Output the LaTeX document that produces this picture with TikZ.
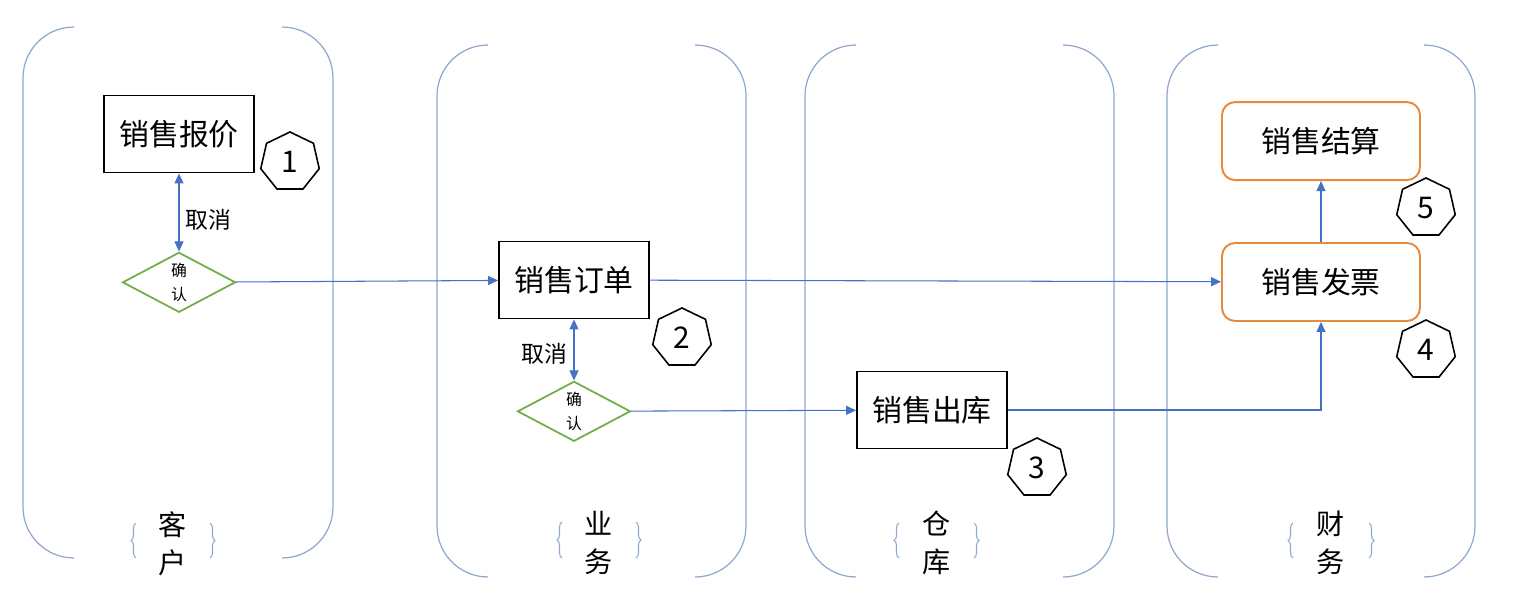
\documentclass[tikz,border=0pt]{standalone}
\usepackage{fontspec}
\setmainfont{Noto Sans CJK SC}
\usepackage{xcolor}
\usepackage{tikz}
\usetikzlibrary{shapes.geometric, arrows.meta, positioning, decorations.pathreplacing}
\definecolor{laneStroke}{HTML}{8FA8CC}
\definecolor{flowBlue}{HTML}{4472C4}
\definecolor{greenStroke}{HTML}{70AD47}
\definecolor{orangeStroke}{HTML}{E9893A}
\tikzset{
  lane/.style={draw=laneStroke, line width=0.7pt, rounded corners=1.02cm},
  brc/.style={draw=laneStroke, line width=0.6pt, decorate,
    decoration={brace, amplitude=0.1cm}},
  lanetxt/.style={align=center, inner sep=0pt,
    font=\fontsize{16}{21.5}\selectfont},
  proc/.style={
    rectangle, draw=black, line width=1.1pt,
    minimum width=3cm, minimum height=1.54cm,
    font=\fontsize{17}{20}\selectfont
  },
  fin/.style={proc, draw=orangeStroke, rounded corners=0.26cm,
    minimum width=3.96cm, minimum height=1.56cm},
  decide/.style={
    diamond, draw=greenStroke, line width=1pt,
    minimum width=2.26cm, minimum height=1.2cm,
    inner sep=0pt, align=center,
    font=\fontsize{9}{13.5}\selectfont
  },
  badge/.style={regular polygon, regular polygon sides=7, draw,
    line width=0.9pt, minimum size=1.2cm, inner sep=0pt,
    font=\fontsize{17}{20}\selectfont},
  flow/.style={-{Triangle[length=2mm, width=1.8mm]}, flowBlue, line width=0.6pt},
  twoway/.style={{Triangle[length=2mm, width=1.8mm]}-{Triangle[length=2mm, width=1.8mm]},
    flowBlue, line width=0.6pt},
  cancelTxt/.style={font=\fontsize{13}{15}\selectfont, text=black},
}
\begin{document}
\begin{tikzpicture}[x=0.02cm, y=-0.02cm, node distance=1.2cm]
    \useasboundingbox (0,0) rectangle (1519,601);

    % swimlanes
    \draw[lane] (74,27) -- (23,27) -- (23,558) -- (74,558);
    \draw[lane] (282,27) -- (333,27) -- (333,558) -- (282,558);
    \draw[lane] (488,45) -- (437,45) -- (437,577) -- (488,577);
    \draw[lane] (695,45) -- (746,45) -- (746,577) -- (695,577);
    \draw[lane] (856,45) -- (805,45) -- (805,577) -- (856,577);
    \draw[lane] (1063,45) -- (1114,45) -- (1114,577) -- (1063,577);
    \draw[lane] (1218,45) -- (1167,45) -- (1167,577) -- (1218,577);
    \draw[lane] (1424,45) -- (1475,45) -- (1475,577) -- (1424,577);

    \node[lanetxt] (lc) at (173,544) {客\\户};
    \node[lanetxt] (lb) at (599,543) {业\\务};
    \node[lanetxt] (lw) at (937,543) {仓\\库};
    \node[lanetxt] (lf) at (1331,543) {财\\务};
    \draw[brc] (136,558) -- (136,523);
    \draw[brc] (210,523) -- (210,558);
    \draw[brc] (562,558) -- (562,522);
    \draw[brc] (636,522) -- (636,558);
    \draw[brc] (899,558) -- (899,523);
    \draw[brc] (974,523) -- (974,558);
    \draw[brc] (1293,558) -- (1293,523);
    \draw[brc] (1369,523) -- (1369,558);

    % steps
    \node[proc] (quote) at (179,134) {销售报价};
    \node[decide, below=1.56cm of quote] (ok1) {确\\认};
    \node[proc] (order) at (574,280) {销售订单};
    \node[decide, below=1.22cm of order] (ok2) {确\\认};
    \node[proc] (out) at (932,410) {销售出库};
    \node[fin] (invoice) at (1321,282) {销售发票};
    \node[fin, above=1.22cm of invoice] (settle) {销售结算};

    \node[badge] (n1) at (290,162) {1};
    \node[badge] (n2) at (682,338) {2};
    \node[badge] (n3) at (1037,468) {3};
    \node[badge] (n4) at (1426,350) {4};
    \node[badge] (n5) at (1426,208) {5};

    \draw[twoway] (quote) -- node[right, cancelTxt, yshift=-4pt] {取消} (ok1);
    \draw[flow] (ok1) -- (order);
    \draw[twoway] (order) -- node[left, cancelTxt, yshift=-2pt] {取消} (ok2);
    \draw[flow] (ok2) -- (out);
    \draw[flow] (order) -- (invoice);
    \draw[flow] (out) -| (invoice);
    \draw[flow] (invoice) -- (settle);
  \end{tikzpicture}
\end{document}
